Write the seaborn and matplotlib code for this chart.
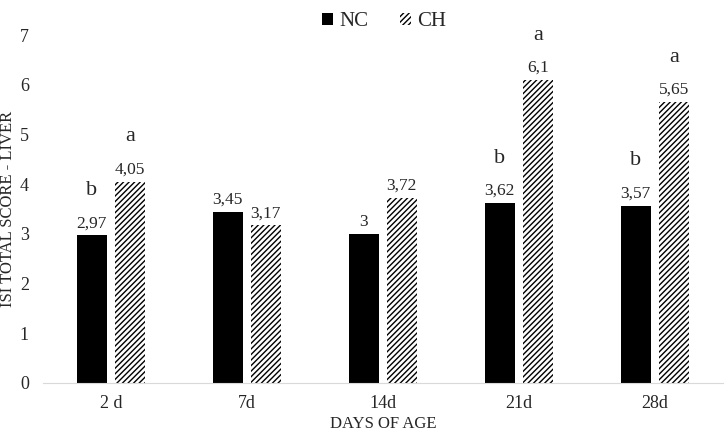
import pandas as pd
import numpy as np
import matplotlib
matplotlib.use('Agg')
import matplotlib.pyplot as plt
import seaborn as sns
from matplotlib.patches import Patch

# data
days = ['2 d', '7d', '14d', '21d', '28d']
nc = [2.97, 3.45, 3.00, 3.62, 3.57]
ch = [4.05, 3.17, 3.72, 6.10, 5.65]
nc_letters = ['b', '', '', 'b', 'b']
ch_letters = ['a', '', '', 'a', 'a']

df = pd.DataFrame({
    'day': days * 2,
    'group': ['NC'] * len(days) + ['CH'] * len(days),
    'score': nc + ch,
})

sns.set_style('white')
plt.rcParams['font.family'] = ['Liberation Serif', 'DejaVu Serif']
plt.rcParams['hatch.linewidth'] = 1.0

fig = plt.figure(figsize=(7.25, 4.33), dpi=100)
ax = fig.add_axes([0.059, 0.1155, 0.938, 0.8035])

sns.barplot(data=df, x='day', y='score', hue='group', order=days,
            hue_order=['NC', 'CH'], palette=['black', 'white'],
            width=0.56, gap=0.21, legend=False, ax=ax)

# hatch the CH bars, no outline
for bar in ax.containers[1]:
    bar.set_hatch('//////')
    bar.set_edgecolor('black')
    bar.set_linewidth(0)
for bar in ax.containers[0]:
    bar.set_linewidth(0)

fmt = lambda v: f'{v:g}'.replace('.', ',')
ax.bar_label(ax.containers[0], labels=[fmt(v) for v in nc], padding=3, fontsize=12.5)
ax.bar_label(ax.containers[1], labels=[fmt(v) for v in ch], padding=3, fontsize=12.5)

# significance letters
for cont, vals, letters in [(ax.containers[0], nc, nc_letters), (ax.containers[1], ch, ch_letters)]:
    for bar, v, let in zip(cont, vals, letters):
        if let:
            ax.text(bar.get_x() + bar.get_width() / 2, v + 0.9, let,
                    ha='center', va='center', fontsize=16, clip_on=False)

ax.set_ylim(0, 7)
ax.set_xlim(-0.5, 4.5)
ax.set_yticks(range(0, 8))
ax.tick_params(axis='both', length=0, labelsize=13)
ax.tick_params(axis='x', pad=9)
ax.tick_params(axis='y', pad=10)
for s in ['top', 'right', 'left']:
    ax.spines[s].set_visible(False)
ax.spines['bottom'].set_color('#d9d9d9')
ax.set_xlabel('DAYS OF AGE', fontsize=12)
ax.set_ylabel('ISI TOTAL SCORE - LIVER', fontsize=12)
ax.yaxis.set_label_coords(-0.051, 0.5)
ax.xaxis.set_label_coords(0.5, -0.118)
ax.xaxis.label.set_va('center')
ax.yaxis.label.set_va('center')

handles = [Patch(facecolor='black', edgecolor='black', linewidth=0),
           Patch(facecolor='white', edgecolor='black', hatch='//////', linewidth=0)]
fig.legend(handles, ['NC', 'CH'], loc='upper center', bbox_to_anchor=(0.53, 1.015),
           ncol=2, frameon=False, fontsize=15, handlelength=0.55, handleheight=0.55,
           handletextpad=0.3, columnspacing=1.5)

fig.savefig('out.png', dpi=100)
